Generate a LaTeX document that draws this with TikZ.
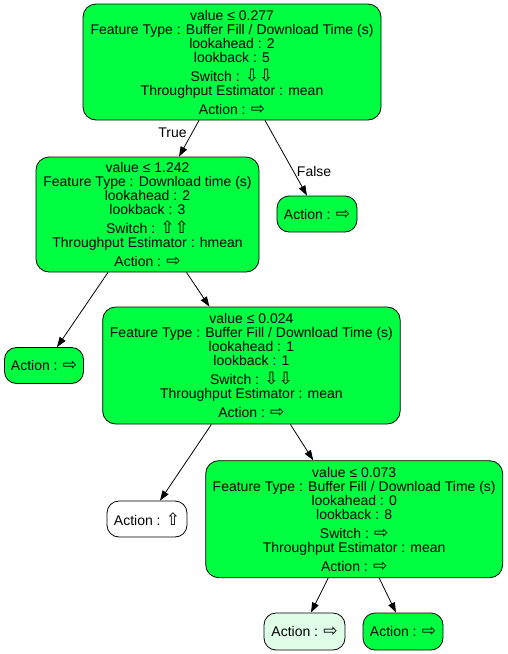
\documentclass[tikz,border=0pt]{standalone}
\usepackage{fontspec}
\setmainfont{Liberation Sans}
\newfontfamily\arrowfont{DejaVu Sans}
\usetikzlibrary{arrows.meta}
\definecolor{splitgreen}{HTML}{00FF40}
\definecolor{palegreen}{HTML}{DFFDE7}
% hollow arrow glyphs, set a little larger than the text
\newcommand\arD{{\arrowfont\fontsize{17}{14}\selectfont ⇩}}
\newcommand\arU{{\arrowfont\fontsize{17}{14}\selectfont ⇧}}
\newcommand\arR{{\arrowfont\fontsize{17}{14}\selectfont ⇨}}
\begin{document}
\begin{tikzpicture}[x=1pt,y=-1pt,
  every node/.style={font=\fontsize{14}{14}\selectfont},
  split/.style={draw=black, line width=0.8pt, fill=splitgreen, rounded corners=13pt,
    align=center, inner sep=0pt, minimum height=116pt},
  leaf/.style={draw=black, line width=0.8pt, fill=splitgreen, rounded corners=12pt,
    inner sep=0pt, minimum width=80pt, minimum height=36pt},
  edge/.style={draw=black, line width=0.8pt, -{Triangle[length=10pt,width=7pt]}},
  elabel/.style={font=\fontsize{14}{14}\selectfont, inner sep=3pt}
]
\useasboundingbox (0,0) rectangle (507,654);

% decision nodes
\node[split, minimum width=298pt] (root) at (232,62)
  {value ≤ 0.277\\Feature Type : Buffer Fill / Download Time (s)\\lookahead : 2\\lookback : 5\\[5pt]Switch : \arD\arD\\Throughput Estimator : mean\\[5pt]Action : \arR};
\node[split, minimum width=223pt, minimum height=115pt] (n2) at (147.5,214.5)
  {value ≤ 1.242\\Feature Type : Download time (s)\\lookahead : 2\\lookback : 3\\[5pt]Switch : \arU\arU\\Throughput Estimator : hmean\\[5pt]Action : \arR};
\node[split, minimum width=297.5pt, minimum height=117pt] (n3) at (251.4,365.5)
  {value ≤ 0.024\\Feature Type : Buffer Fill / Download Time (s)\\lookahead : 1\\lookback : 1\\[5pt]Switch : \arD\arD\\Throughput Estimator : mean\\[5pt]Action : \arR};
\node[split, minimum width=297pt, minimum height=117pt] (n4) at (354.2,519.2)
  {value ≤ 0.073\\Feature Type : Buffer Fill / Download Time (s)\\lookahead : 0\\lookback : 8\\[5pt]Switch : \arR\\Throughput Estimator : mean\\[5pt]Action : \arR};

% leaves
\node[leaf] (fl) at (317,214) {Action : \arR};
\node[leaf, minimum width=79pt] (la) at (44,365.5) {Action : \arR};
\node[leaf, fill=white] (wl) at (147,519) {Action : \arU};
\node[leaf, fill=palegreen, minimum width=81pt, minimum height=37pt] (ll) at (304.5,631.5) {Action : \arR};
\node[leaf, minimum height=37pt] (gl) at (403,631.5) {Action : \arR};

% connectors
\draw[edge] ([xshift=-33pt]root.south) -- node[elabel, pos=0.35, anchor=east, inner sep=5pt] {True} ([xshift=31.5pt]n2.north);
\draw[edge] ([xshift=33pt]root.south) -- node[elabel, pos=0.68, anchor=west] {False} ([xshift=-10pt]fl.north);
\draw[edge] ([xshift=-39.5pt]n2.south) -- ([xshift=13pt]la.north);
\draw[edge] ([xshift=39pt]n2.south) -- ([xshift=-42pt]n3.north);
\draw[edge] ([xshift=-40pt]n3.south) -- ([xshift=13pt]wl.north);
\draw[edge] ([xshift=39pt]n3.south) -- ([xshift=-41pt]n4.north);
\draw[edge] ([xshift=-26pt]n4.south) -- ([xshift=6.5pt]ll.north);
\draw[edge] ([xshift=25pt]n4.south) -- ([xshift=-7pt]gl.north);
\end{tikzpicture}
\end{document}
